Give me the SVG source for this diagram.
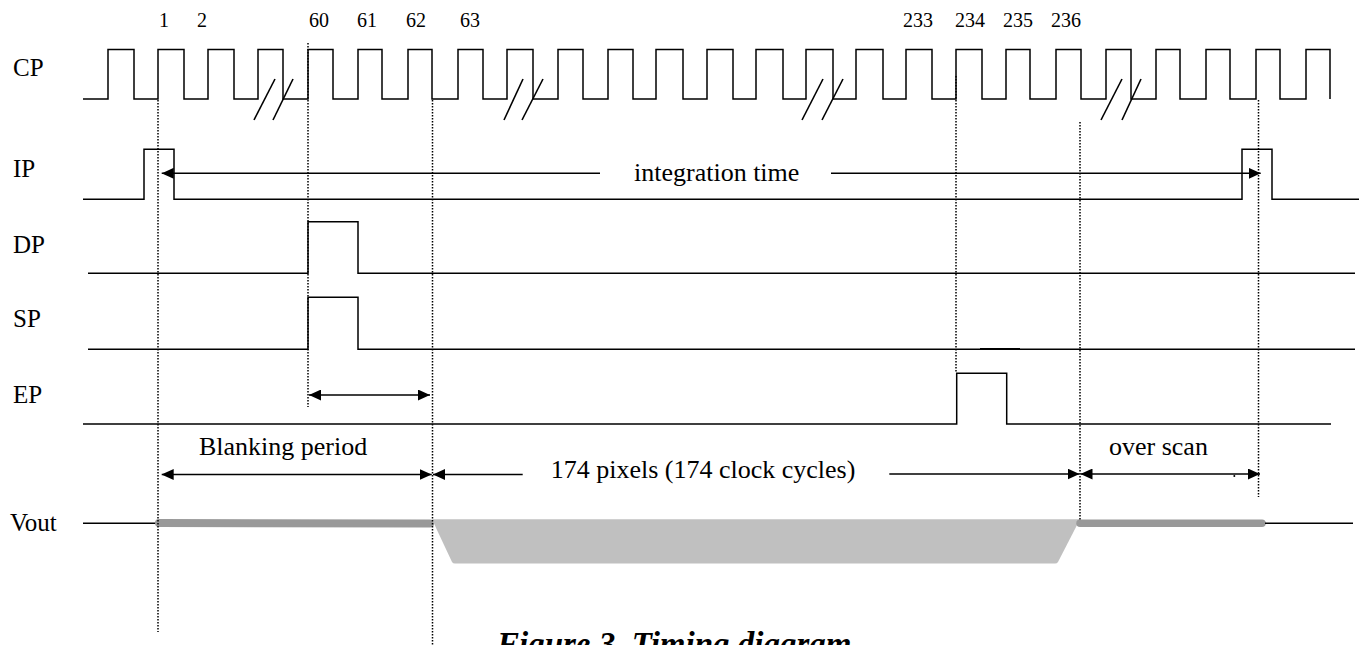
<svg xmlns="http://www.w3.org/2000/svg" width="1367" height="645" viewBox="0 0 1367 645">
<style>
  .sig { fill: none; stroke: #000; stroke-width: 1.5; stroke-linejoin: miter; }
  .brk { stroke: #000; stroke-width: 1.6; }
  .dot { stroke: #000; stroke-width: 1.5; stroke-dasharray: 1.5 1.5; fill: none; }
  .arr { stroke: #000; stroke-width: 1.5; fill: none; }
  .lbl { font-family: "Liberation Serif", "Times New Roman", serif; font-size: 25px; fill: #000; }
  .num { font-family: "Liberation Serif", "Times New Roman", serif; font-size: 20px; fill: #000; text-anchor: middle; }
  .ann { font-family: "Liberation Serif", "Times New Roman", serif; font-size: 26px; fill: #000; }
  .cap { font-family: "Liberation Serif", "Times New Roman", serif; font-size: 33px; font-style: italic; font-weight: bold; fill: #000; }
</style>
<defs>
  <marker id="ah" markerUnits="userSpaceOnUse" markerWidth="12" markerHeight="11" refX="12" refY="5.5" orient="auto-start-reverse">
    <path d="M0,0 L12,5.5 L0,11 z" fill="#000"/>
  </marker>
</defs>
<rect width="1367" height="645" fill="#fff"/>

<!-- labels -->
<g id="labels">
  <text class="lbl" x="13" y="76">CP</text>
  <text class="lbl" x="13" y="177">IP</text>
  <text class="lbl" x="13" y="253">DP</text>
  <text class="lbl" x="13" y="327">SP</text>
  <text class="lbl" x="13" y="403">EP</text>
  <text class="lbl" x="10" y="531">Vout</text>
</g>

<!-- clock numbers -->
<g id="clock-numbers">
  <text class="num" x="164" y="27">1</text>
  <text class="num" x="202" y="27">2</text>
  <text class="num" x="319" y="27">60</text>
  <text class="num" x="367" y="27">61</text>
  <text class="num" x="416" y="27">62</text>
  <text class="num" x="470" y="27">63</text>
  <text class="num" x="918" y="27">233</text>
  <text class="num" x="970" y="27">234</text>
  <text class="num" x="1018" y="27">235</text>
  <text class="num" x="1066" y="27">236</text>
</g>

<!-- CP -->
<g id="CP">
  <path class="sig" d="M83,99 H108 V49.5 H134 V99 H158 V49.5 H184 V99 H208 V49.5 H234 V99 H258 V49.5 H283 V99 H308 V49.5 H333 V99 H358 V49.5 H382 V99 H408 V49.5 H432 V99 H458 V49.5 H483 V99 H507 V49.5 H533 V99 H558 V49.5 H583 V99 H608 V49.5 H633 V99 H656 V49.5 H683 V99 H707 V49.5 H733 V99 H756 V49.5 H783 V99 H806 V49.5 H833 V99 H856 V49.5 H883 V99 H906 V49.5 H932 V99 H956 V49.5 H982 V99 H1006 V49.5 H1030 V99 H1056 V49.5 H1081 V99 H1106 V49.5 H1131 V99 H1156 V49.5 H1180 V99 H1206 V49.5 H1230 V99 H1256 V49.5 H1280 V99 H1306 V49.5 H1330 V99"/>
  <line class="brk" x1="254" y1="120" x2="275" y2="79"/>
  <line class="brk" x1="273" y1="120" x2="293" y2="79"/>
  <line class="brk" x1="504" y1="120" x2="523" y2="79"/>
  <line class="brk" x1="522" y1="120" x2="543" y2="79"/>
  <line class="brk" x1="802" y1="120" x2="823" y2="79"/>
  <line class="brk" x1="822" y1="120" x2="843" y2="79"/>
  <line class="brk" x1="1101" y1="120" x2="1122" y2="79"/>
  <line class="brk" x1="1122" y1="120" x2="1141" y2="79"/>
</g>

<!-- IP -->
<g id="IP">
  <path class="sig" d="M83,199.3 H144 V149.3 H174 V199.3 H1242 V149.3 H1272 V199.3 H1359"/>
</g>

<!-- DP -->
<g id="DP">
  <path class="sig" d="M88,273.3 H308 V221.7 H358 V273.3 H1355"/>
</g>

<!-- SP -->
<g id="SP">
  <path class="sig" d="M88,349.3 H308 V297.3 H358 V349.3 H1355"/>
  <line x1="980" y1="349" x2="1020" y2="349" stroke="#000" stroke-width="2.2"/>
</g>

<!-- EP -->
<g id="EP">
  <path class="sig" d="M83,424 H956.7 V373.3 H1006.7 V424 H1331"/>
</g>

<!-- Vout -->
<g id="Vout">
  <line x1="83" y1="523.3" x2="156" y2="523.3" stroke="#000" stroke-width="1.5"/>
  <line x1="159" y1="523" x2="430" y2="523.5" stroke="#999" stroke-width="8" stroke-linecap="round"/>
  <path d="M432,519.3 H1080 L1058,562 Q1057,563.5 1055,563.5 H455 Q453,563.5 452,562 Z" fill="#c0c0c0"/>
  <line x1="1080" y1="523.3" x2="1262" y2="523.3" stroke="#999" stroke-width="7.5" stroke-linecap="round"/>
  <line x1="1265" y1="523.3" x2="1353" y2="523.3" stroke="#000" stroke-width="1.5"/>
</g>

<!-- connectors: dotted guides and arrows -->
<g id="connectors">
  <line class="dot" x1="158" y1="100" x2="158" y2="632"/>
  <line class="dot" x1="308" y1="43" x2="308" y2="407"/>
  <line class="dot" x1="432.5" y1="100" x2="432.5" y2="645"/>
  <line class="dot" x1="956" y1="76" x2="956" y2="373"/>
  <line class="dot" x1="1080" y1="122" x2="1080" y2="520"/>
  <line class="dot" x1="1258.5" y1="100" x2="1258.5" y2="497"/>

  <!-- integration time -->
  <line class="arr" x1="161.7" y1="173.3" x2="600" y2="173.3" marker-start="url(#ah)"/>
  <line class="arr" x1="831" y1="173.3" x2="1260.7" y2="173.3" marker-end="url(#ah)"/>

  <!-- SP to 62 -->
  <line class="arr" x1="309" y1="395" x2="430" y2="395" marker-start="url(#ah)" marker-end="url(#ah)"/>

  <!-- blanking / pixels / over scan -->
  <line class="arr" x1="161.7" y1="474.5" x2="431.7" y2="474.5" marker-start="url(#ah)" marker-end="url(#ah)"/>
  <line class="arr" x1="433" y1="474.5" x2="522.7" y2="474.5" marker-start="url(#ah)"/>
  <line class="arr" x1="889.3" y1="474" x2="1079.5" y2="474" marker-end="url(#ah)"/>
  <line class="arr" x1="1080.5" y1="474" x2="1260" y2="474" marker-start="url(#ah)" marker-end="url(#ah)"/>
  <circle cx="1234.3" cy="476" r="1" fill="#000"/>
</g>

<!-- annotations -->
<g id="annotations">
  <text class="ann" x="634" y="181">integration time</text>
  <text class="ann" x="199" y="455">Blanking period</text>
  <text class="ann" x="550.7" y="478">174 pixels (174 clock cycles)</text>
  <text class="ann" x="1109" y="455">over scan</text>
  <text class="cap" x="497" y="655">Figure 3.  Timing diagram</text>
</g>
</svg>
